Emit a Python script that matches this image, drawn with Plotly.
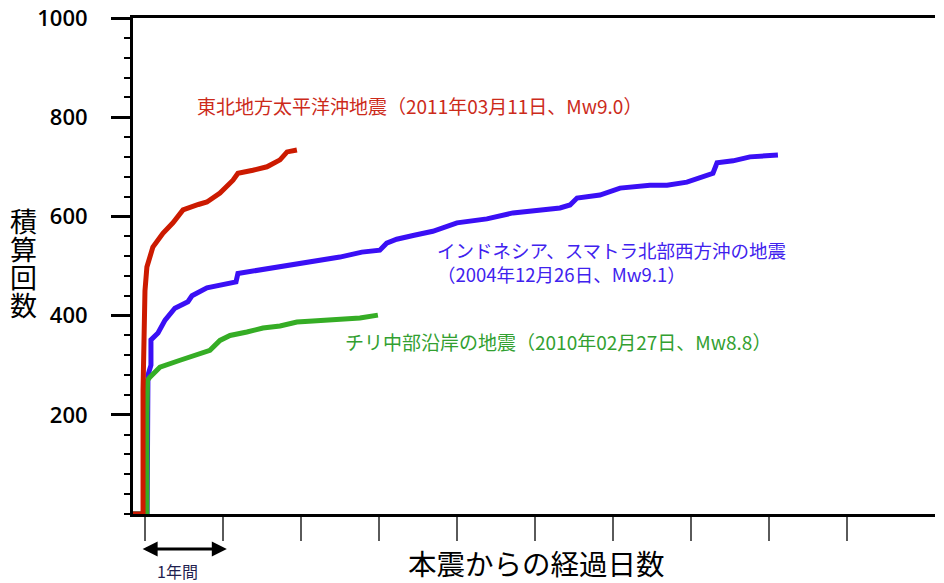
import plotly.graph_objects as go

# Cumulative aftershock counts vs. days elapsed since each mainshock
tohoku_days = [-56, -9, -9, -6, 0, 9, 37, 84, 131, 178, 211, 250, 290, 351, 412, 435, 505, 571, 632, 665, 711]
tohoku_count = [0, 0, 250, 400, 450, 498, 538, 566, 587, 613, 619, 624, 629, 647, 673, 687, 693, 700, 714, 730, 734]

sumatra_days = [-56, 10, 14, 28, 28, 61, 94, 140, 201, 220, 290, 374, 426, 435, 538, 650, 725, 830, 912, 1015,
                1099, 1131, 1178, 1260, 1347, 1460, 1600, 1722, 1849, 1942, 1989, 2022, 2129, 2223, 2363,
                2443, 2536, 2597, 2658, 2677, 2752, 2831, 2962]
sumatra_count = [0, 0, 280, 300, 351, 365, 391, 415, 428, 440, 456, 462, 468, 485, 492, 498, 504, 512, 518, 528,
                 532, 546, 554, 562, 570, 587, 595, 607, 613, 617, 623, 637, 643, 657, 663,
                 663, 669, 679, 687, 708, 712, 720, 724]

chile_days = [-56, 9, 9, 12, 23, 70, 164, 243, 304, 351, 398, 477, 552, 632, 711, 786, 866, 945, 1006, 1090]
chile_count = [0, 0, 200, 270, 276, 296, 310, 320, 330, 350, 360, 367, 375, 379, 387, 389, 391, 393, 395, 401]

x_ticks = [0, 365, 730, 1095, 1460, 1825, 2190, 2555, 2920, 3285]
y_ticks = [200, 400, 600, 800, 1000]
y_ticktext = ["200", "400", "600", "800", "1000"]

x_range = [-56, 3697]
y_range = [0, 1000]
ONE_YEAR = 365
ARROW_PAD = 18  # arrowhead tips reach slightly past the year span

y_title_chars = ["積", "算", "回", "数"]

RED, BLUE, GREEN = "#cc1a00", "#3a0ff5", "#35ad25"
JP = "Noto Sans CJK JP"

fig = go.Figure()
fig.add_trace(go.Scatter(x=sumatra_days, y=sumatra_count, mode="lines",
                         line=dict(color=BLUE, width=5), hoverinfo="skip"))
fig.add_trace(go.Scatter(x=chile_days, y=chile_count, mode="lines",
                         line=dict(color=GREEN, width=5), hoverinfo="skip"))
fig.add_trace(go.Scatter(x=tohoku_days, y=tohoku_count, mode="lines",
                         line=dict(color=RED, width=5), hoverinfo="skip"))

fig.update_layout(
    width=944, height=583,
    margin=dict(l=133, r=9, t=18, b=69, autoexpand=False),
    paper_bgcolor="white", plot_bgcolor="white",
    showlegend=False,
    xaxis=dict(range=x_range, showgrid=False, zeroline=False, automargin=False,
               showline=True, linecolor="black", linewidth=3, mirror=True,
               tickvals=x_ticks, showticklabels=False,
               ticks="outside", ticklen=24, tickwidth=1.5, tickcolor="#5a5a5a"),
    yaxis=dict(range=y_range, showgrid=False, zeroline=False, automargin=False,
               showline=True, linecolor="black", linewidth=3,
               tickvals=y_ticks, ticktext=y_ticktext,
               ticks="outside", ticklen=19, tickwidth=3, tickcolor="black",
               ticklabelstandoff=19,
               tickfont=dict(family="Open Sans", size=22, color="black", weight=600),
               minor=dict(dtick=40, tick0=0, ticks="outside", ticklen=6,
                          tickwidth=2, tickcolor="black")),
    yaxis2=dict(range=y_range, overlaying="y", side="right", showgrid=False,
                zeroline=False, automargin=False, showline=True, linecolor="black", linewidth=3,
                tick0=0, dtick=40, ticks="inside", ticklen=5, tickwidth=2,
                tickcolor="black", showticklabels=False),
)

annotations = [
    dict(x=234, y=824, xref="x", yref="y", xanchor="left", yanchor="middle",
         text="東北地方太平洋沖地震（2011年03月11日、Mw9.0）",
         font=dict(family=JP, size=19, color="#cc2a1a"), showarrow=False),
    dict(x=1357, y=509, xref="x", yref="y", xanchor="left", yanchor="middle", align="left",
         text="インドネシア、スマトラ北部西方沖の地震<br>（2004年12月26日、Mw9.1）",
         font=dict(family=JP, size=18.5, color="#3f22ee"), showarrow=False),
    dict(x=927, y=347, xref="x", yref="y", xanchor="left", yanchor="middle",
         text="チリ中部沿岸の地震（2010年02月27日、Mw8.8）",
         font=dict(family=JP, size=19, color="#32a030"), showarrow=False),
    # x-axis title
    dict(x=0.5025, y=-0.098, xref="paper", yref="paper", xanchor="center", yanchor="middle",
         text="本震からの経過日数", font=dict(family=JP, size=28.5, color="black"),
         showarrow=False),
    # one-year scale arrow
    dict(x=ONE_YEAR + ARROW_PAD, y=-0.0706, xref="x", yref="paper", ax=-ARROW_PAD, ay=0,
         axref="x", ayref="pixel", text="", showarrow=True,
         arrowhead=2, startarrowhead=2, arrowside="end+start",
         arrowsize=1, startarrowsize=1, arrowwidth=3, arrowcolor="black"),
    dict(x=0.056, y=-0.115, xref="paper", yref="paper", xanchor="center", yanchor="middle",
         text="1年間", font=dict(family=JP, size=16, color="#1f1f50"), showarrow=False),
]

# y-axis title, stacked one character per row
for i, ch in enumerate(y_title_chars):
    annotations.append(dict(x=-0.136, y=0.592 - i * 0.0567, xref="paper", yref="paper",
                            xanchor="center", yanchor="middle", text=ch,
                            font=dict(family=JP, size=27, color="black"), showarrow=False))

fig.update_layout(annotations=annotations)

fig.write_html("out.html")
